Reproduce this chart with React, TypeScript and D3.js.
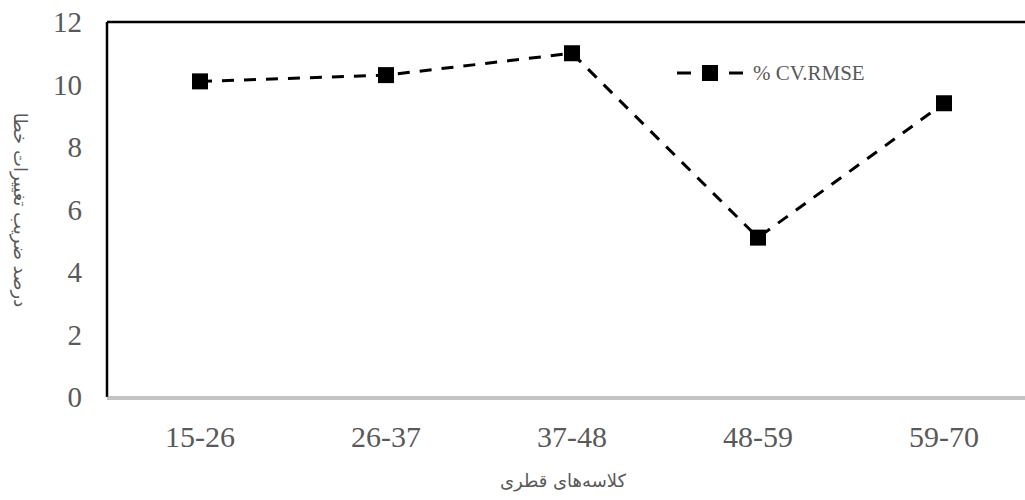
import React from 'react';
import * as d3 from 'd3';

const categories = ['15-26', '26-37', '37-48', '48-59', '59-70'];
const cvRmse = [10.1, 10.3, 11.0, 5.1, 9.4];
const yTicks = [0, 2, 4, 6, 8, 10, 12];
const seriesName = '% CV.RMSE';
const xTitle = 'کلاسه‌های قطری';
const yTitle = 'درصد ضریب تغییرات خطا';

const W = 1025;
const H = 500;
const left = 107;
const top = 22;
const bottom = 397;
const right = 1037;

const App: React.FC = () => {
  const x = d3.scaleBand<string>().domain(categories).range([left, right]);
  const y = d3.scaleLinear().domain([0, 12]).range([bottom, top]);
  const line = d3
    .line<number>()
    .x((_, i) => (x(categories[i]) || 0) + x.bandwidth() / 2)
    .y((d) => y(d));
  const font = 'Liberation Serif, serif';
  const arabic = 'DejaVu Sans, sans-serif';
  const grey = '#595959';

  return (
    <div style={{ position: 'absolute', left: 0, top: 0, width: W, height: H }}>
      <svg width={W} height={H} style={{ display: 'block', background: '#fff' }}>
        {/* frame */}
        <line x1={left} x2={W} y1={top} y2={top} stroke="#000" strokeWidth={2.5} />
        <line x1={left} x2={left} y1={top} y2={bottom} stroke="#000" strokeWidth={2.5} />
        <line x1={left} x2={W} y1={bottom} y2={bottom} stroke="#888" strokeWidth={1} />
        <line x1={left} x2={W} y1={bottom + 2} y2={bottom + 2} stroke="#888" strokeWidth={1} />

        {yTicks.map((t) => (
          <text key={t} x={82} y={y(t)} dy="0.35em" textAnchor="end" fontFamily={font} fontSize={29} fill={grey}>
            {t}
          </text>
        ))}
        {categories.map((c) => (
          <text key={c} x={(x(c) || 0) + x.bandwidth() / 2} y={447} textAnchor="middle" fontFamily={font} fontSize={30} fill={grey}>
            {c}
          </text>
        ))}

        <path d={line(cvRmse) || ''} fill="none" stroke="#000" strokeWidth={3} strokeDasharray="12 10" />
        {cvRmse.map((v, i) => (
          <rect
            key={i}
            x={(x(categories[i]) || 0) + x.bandwidth() / 2 - 8}
            y={y(v) - 8}
            width={16}
            height={16}
            fill="#000"
          />
        ))}

        {/* legend */}
        <g transform="translate(677,73)">
          <line x1={0} x2={66} y1={0} y2={0} stroke="#000" strokeWidth={3} strokeDasharray="14 12" />
          <rect x={25} y={-8} width={16} height={16} fill="#000" />
          <text x={76} y={0} dy="0.35em" fontFamily={font} fontSize={21} fill={grey}>
            {seriesName}
          </text>
        </g>

        <text x={563} y={487} textAnchor="middle" fontFamily={arabic} fontSize={18} fill={grey}>
          {xTitle}
        </text>
      </svg>
      <div
        dir="rtl"
        style={{
          position: 'absolute',
          left: 20,
          top: (top + bottom) / 2,
          transform: 'translate(-50%, -50%) rotate(90deg)',
          whiteSpace: 'nowrap',
          fontFamily: arabic,
          fontSize: 18,
          color: grey,
          lineHeight: 1,
        }}
      >
        {yTitle}
      </div>
    </div>
  );
};

export default App;
